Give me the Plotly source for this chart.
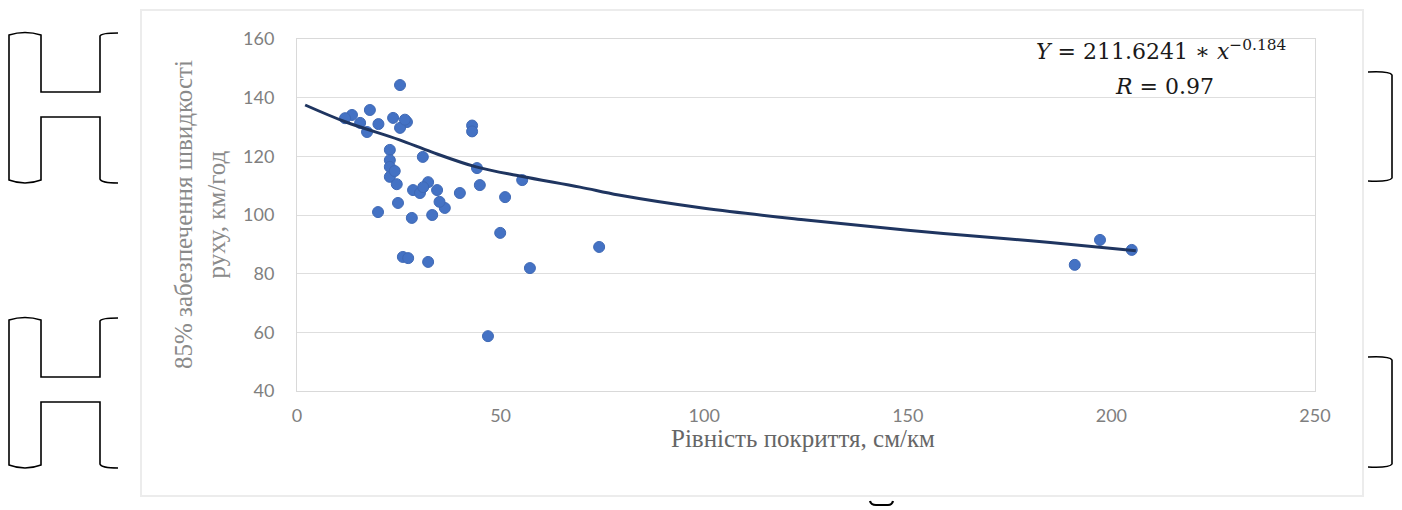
import plotly.graph_objects as go

# ---- data ----
roughness = [25.3, 17.9, 13.5, 11.8, 15.5, 17.2, 20.0, 23.6, 27.0, 25.3, 26.5,
             22.8, 22.8, 22.8, 22.8, 24.0, 30.9, 43.0, 43.0, 44.2, 44.9, 40.0,
             55.3, 51.1, 49.9, 57.2, 46.9, 32.2, 34.4, 36.3, 33.2, 28.2, 19.9,
             24.8, 26.0, 27.3, 32.2, 28.5, 30.2, 74.2, 191.0, 197.2, 205.0,
             35.0, 31.0, 24.5]
speed85 = [144.3, 135.8, 134.1, 133.0, 131.4, 128.3, 131.0, 133.1, 131.7, 129.7, 132.5,
           122.2, 118.7, 116.4, 113.0, 115.0, 119.8, 130.5, 128.5, 116.0, 110.2, 107.5,
           111.9, 106.1, 93.9, 81.9, 58.7, 111.2, 108.5, 102.4, 100.0, 99.0, 101.0,
           104.1, 85.7, 85.3, 84.0, 108.5, 107.5, 89.1, 83.0, 91.5, 88.1,
           104.5, 109.5, 110.5]

trend_x = [2, 12, 25, 33, 44, 55, 69.5, 79, 100, 125, 150, 175, 185, 206]
trend_y = [137.5, 131.7, 125.7, 121.5, 116.4, 113.2, 109.5, 106.8, 102.3, 98.3, 94.8, 91.8, 90.6, 87.8]

x_ticks = [0, 50, 100, 150, 200, 250]
y_ticks = [40, 60, 80, 100, 120, 140, 160]

x_title = "Рівність покриття, см/км"
y_title = "85% забезпечення швидкості<br>руху, км/год"
eq_line1 = "<i>Y</i> = 211.6241 ∗ <i>x</i><sup>−0.184</sup>"
eq_line2 = "<i>R</i> = 0.97"

# ---- layout geometry (pixels) ----
W, H = 1402, 510
L, R, T, B = 297, 1315, 39, 391


def px(x):
    return (x - L) / (R - L)


def py(y):
    return (B - y) / (B - T)


def path(cmds):
    out = []
    for c in cmds:
        op, pts = c[0], c[1:]
        seg = op + " " + " ".join(f"{px(pts[i]):.5f},{py(pts[i+1]):.5f}" for i in range(0, len(pts), 2))
        out.append(seg)
    return " ".join(out)


fig = go.Figure()

fig.add_trace(go.Scatter(
    x=roughness, y=speed85, mode="markers",
    marker=dict(size=11, color="#4472C4", line=dict(width=1, color="#3F69B5")),
    showlegend=False, hoverinfo="x+y"))

fig.add_trace(go.Scatter(
    x=trend_x, y=trend_y, mode="lines",
    line=dict(color="#1F3560", width=3, shape="spline", smoothing=1.0),
    showlegend=False, hoverinfo="skip"))

shapes = []
# outer chart border
shapes.append(dict(type="rect", xref="paper", yref="paper",
                   x0=px(141), x1=px(1363), y0=py(10), y1=py(496),
                   line=dict(color="#ececec", width=2), layer="below"))

blk = dict(color="black", width=1.6)
for dy in (0, 285):
    shapes.append(dict(type="path", xref="paper", yref="paper", line=blk, path=path([
        ("M", 118, 33 + dy), ("Q", 101, 33 + dy, 100, 36 + dy), ("L", 100, 92 + dy), ("L", 41, 92 + dy),
        ("L", 41, 35 + dy), ("Q", 25, 30 + dy, 9, 35 + dy), ("L", 9, 180 + dy),
        ("Q", 25, 186 + dy, 41, 180 + dy), ("L", 41, 117 + dy), ("L", 100, 117 + dy),
        ("L", 100, 179 + dy), ("Q", 101, 183 + dy, 118, 183 + dy)])))
for (t0, t1) in ((72, 181), (357, 467)):
    shapes.append(dict(type="path", xref="paper", yref="paper", line=blk, path=path([
        ("M", 1368, t0), ("Q", 1390, t0 - 1, 1392, t0 + 3), ("L", 1392, t1 - 3),
        ("Q", 1390, t1 + 1, 1368, t1)])))
shapes.append(dict(type="path", xref="paper", yref="paper", line=dict(color="black", width=2.2), path=path([
    ("M", 870, 501), ("Q", 871, 505, 876, 505), ("L", 888, 505), ("Q", 892, 505, 893, 501)])))

annotations = [
    dict(text=eq_line1, x=px(1161), y=py(50), xref="paper", yref="paper", showarrow=False,
         xanchor="center", yanchor="middle",
         font=dict(family="DejaVu Serif", size=22, color="#1a1a1a")),
    dict(text=eq_line2, x=px(1164), y=py(86), xref="paper", yref="paper", showarrow=False,
         xanchor="center", yanchor="middle",
         font=dict(family="DejaVu Serif", size=22, color="#1a1a1a")),
    dict(text=y_title, x=px(200), y=py(215), xref="paper", yref="paper", showarrow=False,
         textangle=-90, xanchor="center", yanchor="middle",
         font=dict(family="Liberation Serif", size=25, color="#8a8a8a")),
    dict(text=x_title, x=px(803), y=py(438), xref="paper", yref="paper", showarrow=False,
         xanchor="center", yanchor="middle",
         font=dict(family="Liberation Serif", size=25, color="#666666")),
]

fig.update_layout(
    width=W, height=H,
    margin=dict(l=L, r=W - R, t=T, b=H - B, pad=0),
    paper_bgcolor="white", plot_bgcolor="white",
    shapes=shapes, annotations=annotations,
    showlegend=False,
    xaxis=dict(range=[0, 250], tickvals=x_ticks, showgrid=False, zeroline=False,
               showline=True, linecolor="#d9d9d9", linewidth=1, mirror=True,
               ticks="", ticklabelstandoff=8,
               tickfont=dict(family="Lato", size=18, color="#7f7f7f")),
    yaxis=dict(range=[40, 160], tickvals=y_ticks, showgrid=True, gridcolor="#dedede",
               gridwidth=1, zeroline=False,
               showline=True, linecolor="#d9d9d9", linewidth=1, mirror=True,
               ticks="", ticklabelstandoff=18,
               tickfont=dict(family="Lato", size=18, color="#7f7f7f")),
)

fig.write_html("out.html", config={"displayModeBar": False},
               post_script="document.body.style.margin='0px';document.body.style.overflow='hidden';")
